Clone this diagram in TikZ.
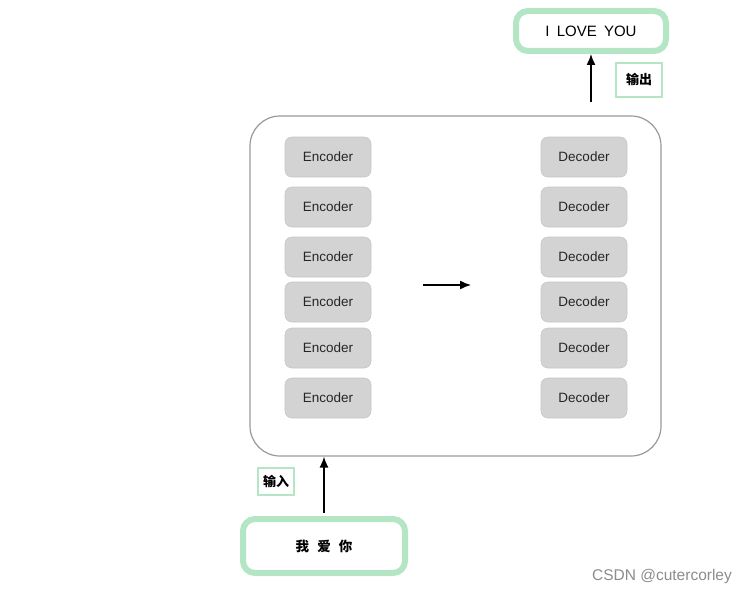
\documentclass[tikz,border=0pt]{standalone}
\usepackage{fontspec}
\setmainfont{Liberation Sans}
\newfontfamily\cjk{Noto Sans CJK SC}
\newfontfamily\cjkb{Noto Sans CJK SC Bold}
\usetikzlibrary{arrows.meta}
\definecolor{mint}{HTML}{B4E6C5}
\definecolor{boxgray}{HTML}{D3D3D3}
\definecolor{framegray}{HTML}{999999}
\tikzset{
  x=1pt,y=-1pt,
  blk/.style={draw=boxgray!85!gray,line width=0.6pt,fill=boxgray,rounded corners=7pt,minimum width=86pt,minimum height=40pt,inner sep=0pt,font=\fontsize{13.5}{15}\selectfont,text=black!85},
  greenbox/.style={draw=mint,line width=6pt,rounded corners=12pt,fill=white,inner sep=0pt},
  tag/.style={draw=mint,line width=1.2pt,fill=white,inner sep=0pt,font=\cjk\fontsize{13}{15}\selectfont},
  arr/.style={-{Latex[length=11pt,width=9pt]},line width=1.4pt}
}
\begin{document}
\begin{tikzpicture}
\useasboundingbox (0,0) rectangle (749,594);
\node[draw=framegray,line width=1.2pt,rounded corners=30pt,minimum width=411pt,minimum height=340pt,inner sep=0pt] (frame) at (455.5,286) {};
\foreach \i/\y in {1/157,2/207,3/257,4/302,5/348,6/398}{
  \node[blk] (e\i) at (328,\y) {Encoder};
  \node[blk] (d\i) at (584,\y) {Decoder};
}
\coordinate (ma) at (423,285);
\coordinate (mb) at (471,285);
\draw[arr] (ma) -- (mb);
\node[greenbox,minimum width=150pt,minimum height=40pt,font=\fontsize{15}{17}\selectfont] (out) at (591,31) {I\hspace{0.2em} LOVE\hspace{0.2em} YOU};
\node[tag,minimum width=46pt,minimum height=34pt] (outtag) at (639,80) {\textbf{输出}};
\coordinate (os) at (591,102);
\draw[arr] (os) -- (out.south);
\node[greenbox,minimum width=162pt,minimum height=54pt,font=\cjk\fontsize{13.5}{15}\selectfont] (in) at (324,546) {\textbf{我\hspace{0.6em}爱\hspace{0.6em}你}};
\node[tag,minimum width=36pt,minimum height=27pt] (intag) at (276,481.5) {\textbf{输入}};
\draw[arr] (in.north) ++(0,-3) coordinate (is) (is) -- (frame.south -| is);
\node[text=black!45,font=\fontsize{15.5}{17}\selectfont] (wm) at (662,576) {CSDN @cutercorley};
\end{tikzpicture}
\end{document}
